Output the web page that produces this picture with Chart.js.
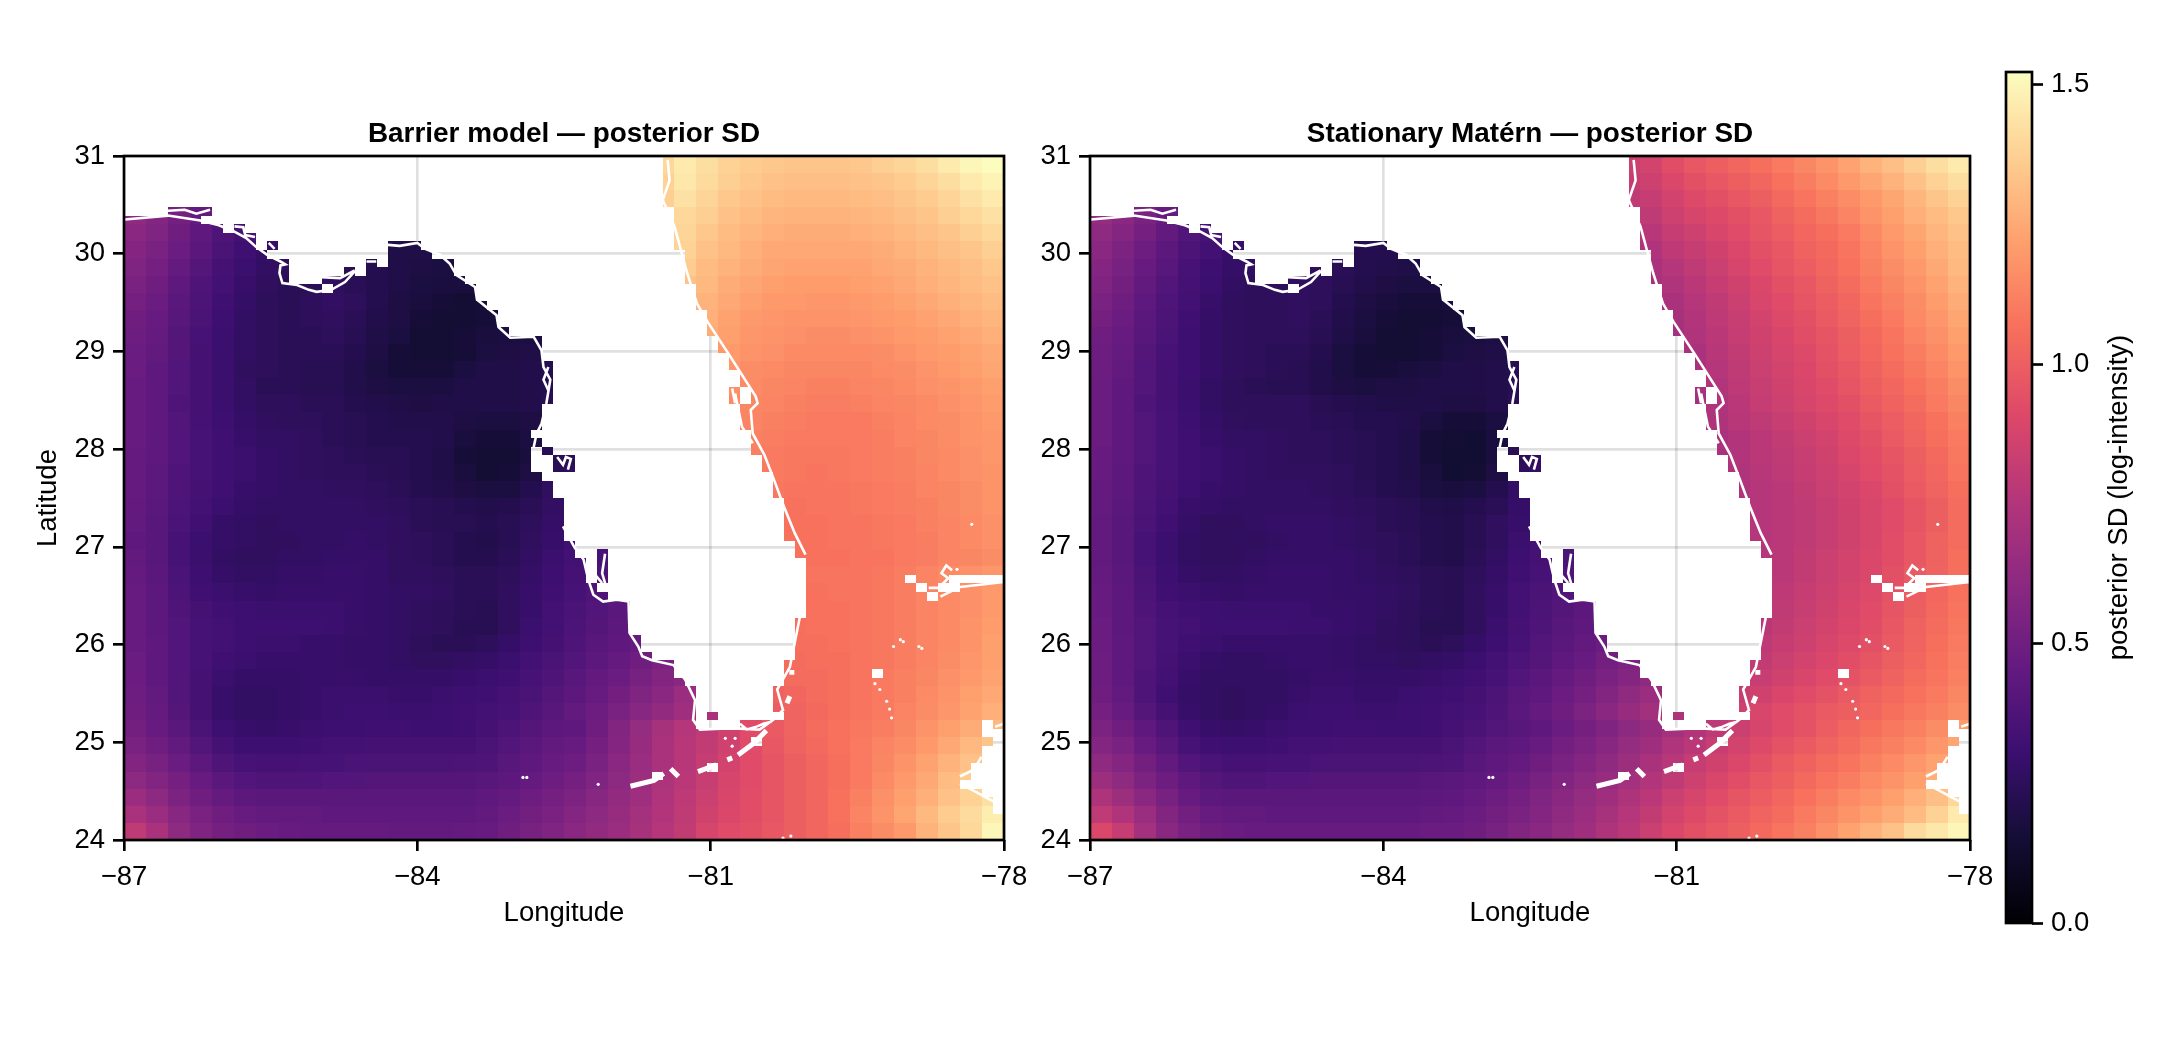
<!DOCTYPE html>
<html>
<head>
<meta charset="utf-8">
<style>
	html, body { margin: 0; background: #fff; }
	canvas { position: absolute; top: 0; }
</style>
<script src="https://cdn.jsdelivr.net/npm/chart.js@4"></script>
</head>
<body>
<canvas id="barrier" width="1040" height="1040" style="left:0"></canvas>
<canvas id="stationary" width="976" height="1040" style="left:1030px"></canvas>
<canvas id="cbar" width="170" height="1040" style="left:1990px"></canvas>
<script>
const lonTicks = [-87, -84, -81, -78];
const latTicks = [24, 25, 26, 27, 28, 29, 30, 31];
const cbarTicks = [0, 0.5, 1, 1.5];
const cbarMax = 1.523;
const magmaStops = ['#000004', '#140e36', '#3b0f70', '#641a80', '#8c2981', '#b5367a', '#de4968', '#f7705c', '#fe9f6d', '#fecf92', '#fcfdbf'];

// posterior SD x100. each row has a sea part left of the land and a sea part right of it
const barrierWest = [
	[], [], [],
	[62,58,52,46],
	[60,56,50,44,38,34],
	[58,54,48,42,36,32,28,null,null,null,null,null,20,20],
	[56,52,46,40,34,30,27,25,null,null,24,22,20,19,18],
	[54,50,44,38,33,29,26,24,24,26,24,22,20,18,17,17],
	[52,48,42,37,32,28,25,24,25,27,25,22,19,17,16,15,16],
	[50,47,41,36,31,27,25,24,25,26,24,21,19,16,15,15,16],
	[49,46,40,35,30,27,25,24,24,25,23,20,18,15,15,16,17,18,18],
	[48,45,40,34,30,27,25,24,24,24,22,19,16,15,15,16,18,19,20],
	[48,44,39,34,30,26,25,24,23,23,21,18,16,16,16,18,20,20,21,22],
	[47,44,39,34,30,27,24,24,23,23,21,19,18,18,18,20,20,20,21,22],
	[47,44,38,34,30,27,25,25,24,24,22,21,20,19,20,20,20,20,21,23],
	[47,44,39,34,31,28,26,25,25,24,23,22,21,21,21,19,18,18,19],
	[47,44,39,35,32,29,27,27,26,24,23,22,22,22,21,17,16,16,18],
	[46,44,39,35,32,30,28,27,26,25,24,23,23,22,20,16,15,15,17,23,24],
	[46,43,38,35,32,30,28,27,26,25,25,24,23,22,20,17,15,16,19,24,25],
	[46,43,38,34,32,29,28,27,27,26,26,25,24,22,21,19,18,18,22,26],
	[45,42,37,33,30,28,27,27,27,27,27,26,25,24,23,22,21,22,24,27,30],
	[45,41,36,32,28,27,26,27,27,27,27,27,26,24,23,23,22,23,25,28,31],
	[44,41,35,30,28,27,26,26,27,27,28,27,26,25,24,22,21,23,26,29,32],
	[45,41,35,30,27,26,26,27,27,28,28,28,26,25,24,22,22,24,27,30,33,35],
	[46,42,36,31,28,27,27,28,28,29,29,28,26,26,25,24,24,25,28,31,34,37],
	[47,43,37,32,30,29,28,29,29,29,29,28,27,27,26,24,24,26,29,32,35,38,41],
	[47,43,38,34,32,31,30,30,30,30,29,28,27,26,25,24,23,26,29,33,36,39,42,45],
	[47,43,39,35,33,31,31,31,31,30,29,28,27,26,25,23,23,26,30,33,37,40,43,46],
	[47,44,39,35,33,31,30,30,29,29,28,28,27,25,24,24,25,28,31,34,38,41,44,47],
	[48,44,39,35,32,30,29,29,29,29,28,28,27,26,26,27,28,30,33,36,39,43,46,50,54],
	[48,44,39,34,30,28,28,28,29,29,29,28,28,28,28,29,30,32,35,38,41,45,48,53,57,60],
	[49,45,39,34,29,27,27,28,29,30,30,30,29,29,30,31,32,34,36,40,43,47,51,56,60,66,69],
	[50,46,40,34,29,27,27,28,29,30,31,31,30,30,31,32,33,35,38,41,45,49,54,59,63,68,72],
	[51,47,42,36,31,29,28,29,30,31,31,32,32,31,31,32,34,37,40,43,44,50,57,64,71,76,80,86,92,98,102,105,107,109,111,114,118,122,126,130],
	[54,50,45,39,34,31,31,31,32,33,33,34,34,34,34,34,36,39,42,45,47,52,58,65,72,77,81,86,92,97,101,104,107,110,113,116,120,125,130,134],
	[57,53,48,43,38,35,34,34,35,35,36,36,36,36,36,37,38,41,44,47,49,54,60,66,72,77,82,87,92,96,100,103,106,110,114,118,123,128,133,138],
	[61,57,52,47,42,39,38,38,38,39,39,40,40,40,40,40,41,43,46,49,52,56,61,67,73,78,83,88,92,96,100,103,106,110,115,120,125,131,136,141],
	[66,61,55,50,46,43,42,42,42,42,42,42,42,42,42,42,44,46,49,52,55,59,63,68,74,79,84,89,93,96,100,103,107,112,117,122,127,133,138,143],
	[72,66,59,54,50,47,45,45,45,44,44,44,44,44,44,44,45,48,51,54,58,61,65,70,75,80,86,90,93,96,100,103,107,113,118,124,130,136,141,147],
	[80,72,62,56,52,50,48,47,46,46,46,46,45,45,45,46,47,50,53,56,60,63,66,71,76,81,88,92,94,97,100,103,106,112,116,120,128,134,140,150]
];
const barrierEast = [
	[140,146,142,138,136,135,134,134,134,135,137,139,142,146,150,152],
	[138,145,141,137,135,133,132,132,132,133,134,136,139,142,146,149],
	[137,143,139,135,133,131,130,130,130,131,132,134,136,139,143,146],
	[140,137,133,131,129,128,128,128,129,130,132,134,137,140,143],
	[139,135,131,129,127,126,126,126,127,128,130,132,134,137,140],
	[138,133,130,127,125,125,125,125,125,126,128,130,132,134,137],
	[136,131,128,126,124,123,123,123,123,125,126,128,130,132,135],
	[133,130,126,124,122,121,121,121,122,123,125,127,129,131,133],
	[128,125,122,120,120,119,119,120,121,123,125,127,129,131],
	[127,123,120,119,118,118,118,119,120,121,123,125,127,129],
	[126,122,119,118,117,116,116,117,118,120,121,123,125,127],
	[120,118,117,115,115,115,115,116,118,120,121,123,125],
	[119,116,115,114,114,114,114,115,116,118,120,122,124],
	[117,115,114,113,112,112,113,114,115,117,118,120,122],
	[115,114,113,112,111,111,112,113,114,115,117,119,121],
	[113,112,111,110,110,110,112,113,115,116,118,120],
	[112,111,110,110,110,110,111,113,114,116,118,119],
	[112,110,109,109,109,110,111,112,114,115,117,119],
	[110,109,108,109,110,111,112,113,115,117,118],
	[109,108,108,108,109,110,111,113,114,116,118],
	[107,108,108,109,110,111,112,114,116,118],
	[107,107,108,108,109,110,112,113,115,117],
	[107,107,108,108,109,110,111,113,115,117],
	[107,107,107,108,108,110,111,113,114,116],
	[108,108,108,109,111,113,115,117,119],
	[107,108,108,109,111,113,115,117,120],
	[107,107,108,109,111,113,115,117,120],
	[106,107,107,108,109,111,113,115,118,121],
	[106,106,107,108,109,111,113,115,118,122],
	[105,106,106,108,109,111,113,116,119,122],
	[105,105,106,108,110,112,114,117,120,123],
	[101,103,105,106,108,110,112,115,118,122,125],
	[99,102,104,106,108,110,113,116,119,123,127],
	[], [], [], [], [], [], []
];
const stationaryWest = [
	[], [], [],
	[64,60,54,47],
	[62,58,52,45,39,35],
	[60,55,49,43,37,33,29,null,null,null,null,null,22,22],
	[58,53,47,41,35,31,28,26,null,null,25,24,22,21,20],
	[56,51,45,39,34,30,27,25,25,26,25,23,21,19,18,18],
	[54,50,44,38,33,29,26,25,25,26,25,22,19,17,16,16,17],
	[52,48,42,37,32,28,26,25,25,26,24,21,18,16,15,15,16],
	[50,47,41,36,31,28,26,25,25,25,23,20,17,15,15,16,17,18,19],
	[49,46,40,35,31,28,26,25,24,24,22,18,16,15,15,16,18,19,20],
	[49,45,39,34,31,28,26,25,24,23,21,18,16,16,17,18,20,20,21,23],
	[48,44,39,34,30,27,25,24,23,23,21,19,18,19,19,20,20,20,21,23],
	[48,44,38,34,30,27,25,25,25,25,23,22,21,20,20,20,19,19,21,24],
	[48,44,39,35,31,28,26,25,25,25,24,23,22,22,21,18,16,16,18],
	[48,44,39,35,32,29,27,27,26,25,25,24,23,22,20,16,15,14,17],
	[47,44,39,35,32,30,28,27,26,25,25,24,23,22,20,16,14,14,17,24,26],
	[47,43,38,35,32,30,28,27,26,26,26,25,23,22,20,17,14,15,19,25,27],
	[46,43,38,34,31,29,28,27,27,27,26,25,24,22,21,18,17,18,22,27],
	[46,42,37,33,29,28,27,27,27,27,27,26,25,24,23,21,20,22,24,28,31],
	[45,41,36,32,28,26,26,27,28,28,28,27,26,24,23,22,21,23,26,29,32],
	[45,41,35,30,27,26,26,26,27,28,28,27,26,25,24,22,21,23,26,30,33],
	[45,41,35,30,27,26,26,27,28,28,28,28,27,25,24,22,21,24,27,31,34,36],
	[46,42,36,31,28,27,27,28,29,29,29,28,27,26,25,24,23,25,28,32,35,38],
	[47,43,37,32,30,29,28,29,29,29,29,28,28,27,26,24,23,26,29,33,36,39,42],
	[47,43,38,34,32,31,30,30,30,30,29,29,28,27,25,24,23,26,29,33,37,40,43,46],
	[48,43,39,35,33,31,31,31,31,30,30,29,28,26,25,23,23,26,30,34,38,41,44,47],
	[48,44,39,35,32,30,29,29,29,29,29,28,27,26,25,24,25,28,31,35,39,42,45,48],
	[49,44,39,34,30,28,27,27,28,29,29,28,27,27,26,27,28,30,33,37,40,44,47,51,55],
	[49,44,38,33,29,27,27,27,27,28,29,29,28,28,28,29,30,32,35,39,42,46,50,54,58,62],
	[50,45,38,32,28,27,26,27,27,29,30,30,29,29,30,31,32,34,37,41,44,48,52,57,62,66,70],
	[52,47,40,34,29,27,26,27,28,30,31,31,30,30,31,32,33,35,38,42,46,50,55,60,65,69,73],
	[55,50,44,38,32,29,28,29,30,31,31,32,32,31,31,32,34,36,39,41,44,48,52,56,61,65,70,75,79,84,88,92,95,99,103,106,109,112,116,121],
	[58,54,47,41,35,32,31,31,32,33,33,34,34,34,34,34,36,39,42,44,47,51,55,59,64,68,74,78,83,87,91,95,98,102,105,109,112,115,119,124],
	[62,58,51,45,39,36,34,34,35,35,36,36,36,36,36,37,38,41,44,46,50,54,58,62,67,72,77,82,86,90,94,98,101,105,108,112,115,119,123,128],
	[67,62,55,49,44,40,38,38,39,39,40,40,40,40,40,41,42,44,46,49,53,57,61,65,70,75,80,85,89,93,97,100,104,108,111,115,118,122,127,133],
	[73,67,60,53,47,43,42,42,42,42,42,42,42,42,42,43,44,46,49,52,56,60,64,68,73,78,84,88,92,96,99,103,107,111,115,118,122,127,132,140],
	[80,74,66,57,51,47,45,45,44,44,44,44,44,44,44,45,46,48,51,54,58,62,66,71,76,81,87,91,95,98,102,105,110,114,118,122,126,131,138,146],
	[90,82,70,60,54,50,48,47,47,47,47,47,47,47,47,48,48,50,53,57,60,64,68,73,78,84,90,94,97,100,104,108,112,117,123,128,133,141,145,150]
];
const stationaryEast = [
	[84,87,93,97,100,103,106,110,114,118,123,128,132,137,142,146],
	[82,85,90,94,97,100,103,107,111,115,120,124,128,133,138,142],
	[80,82,87,91,94,97,100,104,108,112,116,120,124,129,134,138],
	[80,85,88,91,94,97,101,105,109,113,118,122,127,131,135],
	[77,82,85,89,92,96,99,103,106,110,115,120,124,129,133],
	[74,79,82,86,90,94,97,101,104,108,113,118,122,127,131],
	[72,76,80,84,88,92,96,99,103,107,112,116,120,125,130],
	[71,74,78,82,86,90,94,97,101,105,110,114,118,123,128],
	[72,76,80,84,89,92,96,99,103,108,112,116,121,126],
	[71,75,79,83,87,91,94,98,102,106,110,115,119,124],
	[70,74,78,82,86,89,93,96,100,104,108,113,117,122],
	[72,77,81,85,88,91,95,99,103,107,111,115,120],
	[72,76,80,84,87,90,94,97,101,105,109,113,118],
	[71,75,79,83,86,89,92,96,100,103,107,111,116],
	[70,74,78,82,85,88,91,94,98,101,105,110,114],
	[73,77,80,83,86,89,92,96,99,103,107,112],
	[72,75,78,81,84,87,91,94,98,102,106,110],
	[72,75,78,80,83,86,90,93,96,100,104,109],
	[74,77,79,82,85,88,92,95,99,103,108],
	[74,76,78,81,84,87,90,94,98,102,106],
	[76,78,80,83,86,89,92,96,100,105],
	[76,78,80,83,86,89,92,96,100,105],
	[76,78,80,83,86,89,93,97,101,105],
	[76,78,81,84,87,90,93,97,101,106],
	[78,81,84,87,90,94,98,102,106],
	[79,82,85,88,91,95,99,103,107],
	[80,83,86,89,92,96,100,104,108],
	[78,81,84,87,90,93,97,101,105,109],
	[79,82,85,88,91,94,98,102,106,110],
	[81,84,87,90,93,96,100,103,107,111],
	[83,86,89,92,95,98,101,105,108,112],
	[83,86,89,92,95,98,101,104,107,110,114],
	[86,89,92,95,98,100,103,106,109,112,116],
	[], [], [], [], [], [], []
];

// land cells per row of the 80 x 80 grid, as [first column, column after last]
const landSpans = [
	[[0,49]], [[0,49]], [[0,49]], [[0,49]], [[0,49]], [[0,49]],
	[[0,4],[8,50]],
	[[7,50]],
	[[9,10],[11,50]],
	[[12,50]],
	[[12,13],[14,24],[27,50]],
	[[13,24],[28,51]],
	[[15,22],[23,24],[30,51]],
	[[15,20],[21,22],[30,51]],
	[[15,18],[31,51]],
	[[18,19],[32,52]],
	[[32,52]],
	[[33,52]],
	[[34,53]],
	[[34,53]],
	[[35,53]],
	[[38,54]],
	[[38,54]],
	[[38,55]],
	[[39,55]],
	[[39,56]],
	[[39,56]],
	[[39,55],[56,57]],
	[[39,55],[56,57]],
	[[38,56]],
	[[38,56]],
	[[38,56]],
	[[37,57]],
	[[38,57]],
	[[37,38],[39,57]],
	[[37,39],[41,58]],
	[[37,39],[41,58]],
	[[38,59]],
	[[39,59]],
	[[39,59]],
	[[40,60]], [[40,60]], [[40,60]], [[40,60]], [[40,60]],
	[[41,61]],
	[[41,43],[44,61]],
	[[42,43],[44,62]],
	[[42,43],[44,62]],
	[[42,43],[44,62],[71,72],[75,80]],
	[[43,62],[72,73],[74,76]],
	[[44,62],[73,74]],
	[[46,62]],
	[[46,62]],
	[[46,61]],
	[[46,61]],
	[[47,61]],
	[[47,61]],
	[[48,61]],
	[[50,60]],
	[[50,60],[68,69]],
	[[51,60]],
	[[52,59]],
	[[52,59]],
	[[52,59]],
	[[52,53],[54,60]],
	[[52,56],[78,79]],
	[[78,80]],
	[[57,58],[79,80]],
	[[78,80]],
	[[78,80]],
	[[53,54],[77,80]],
	[[48,49],[77,80]],
	[[76,80]],
	[[78,80]],
	[[79,80]],
	[[79,80]],
	[], [], []
];

const coastPoints = [
	[-86.99,30.35],[-86.55,30.39],[-86.22,30.34],[-86.03,30.29],[-85.88,30.23],[-85.75,30.16],[-85.65,30.07],[-85.54,29.99],[-85.4,29.92],[-85.35,29.89],[-85.40,29.88],[-85.41,29.80],[-85.38,29.70],[-85.23,29.68],[-85.11,29.63],[-85.03,29.61],[-84.88,29.63],[-84.74,29.71],[-84.64,29.82],null,
	[-84.52,29.92],[-84.42,29.92],null,
	[-84.30,30.09],[-84.18,30.08],[-84.0,30.11],[-83.92,30.05],[-83.77,29.99],[-83.67,29.90],[-83.6,29.78],[-83.41,29.66],[-83.39,29.53],[-83.19,29.37],[-83.17,29.25],[-83.05,29.14],[-82.81,29.15],[-82.73,29.01],[-82.71,28.84],[-82.64,28.71],[-82.68,28.47],[-82.73,28.26],[-82.78,28.16],[-82.81,28.02],null,
	[-82.51,27.21],[-82.39,26.99],[-82.30,26.87],[-82.25,26.66],[-82.2,26.51],[-82.1,26.44],[-81.96,26.46],[-81.84,26.44],[-81.83,26.12],[-81.74,25.98],[-81.70,25.88],[-81.6,25.84],[-81.38,25.79],[-81.26,25.64],[-81.16,25.43],[-81.18,25.23],[-81.11,25.13],[-80.90,25.14],[-80.70,25.14],[-80.5,25.13],[-80.36,25.23],[-80.26,25.33],[-80.32,25.54],[-80.19,25.77],[-80.12,26.12],[-80.08,26.32],null,
	[-80.03,26.92],[-80.14,27.14],[-80.25,27.41],[-80.35,27.68],[-80.45,27.94],[-80.57,28.16],[-80.59,28.40],[-80.52,28.47],[-80.54,28.54],[-80.82,28.98],[-81.03,29.30],[-81.14,29.49],[-81.24,29.80],[-81.37,30.28],[-81.49,30.55],[-81.42,30.75],[-81.44,30.96],null,
	[-80.75,28.57],[-80.68,28.23],[-80.57,28.06],null,
	[-80.78,28.62],[-80.75,28.47],null,
	[-86.55,30.44],[-86.38,30.45],[-86.26,30.41],[-86.12,30.45],null,
	[-85.87,30.28],[-85.78,30.27],[-85.76,30.19],[-85.66,30.17],null,
	[-85.52,30.11],[-85.46,30.05],null,
	[-84.98,29.76],[-84.79,29.75],[-84.64,29.83],null,
	[-82.66,28.84],[-82.71,28.71],[-82.66,28.60],null,
	[-82.57,27.92],[-82.51,27.84],[-82.48,27.92],[-82.43,27.90],[-82.46,27.79],null,
	[-82.08,26.93],[-82.11,26.73],[-82.06,26.56],null,
	[-82.17,26.70],[-82.11,26.63],null,
	[-80.70,25.19],[-80.63,25.13],[-80.53,25.16],[-80.46,25.19],[-80.38,25.21],null,
	[-78.65,26.49],[-78.45,26.59],[-78.0,26.64],null,
	[-78.77,26.58],[-78.67,26.58],[-78.57,26.68],[-78.64,26.73],[-78.59,26.81],[-78.53,26.76],null,
	[-78.45,24.65],[-78.31,24.72],[-78.23,24.85],null,
	[-78.45,24.58],[-78.1,24.39],null,
	[-78.09,25.16],[-78.0,25.19]
];
const keysPoints = [
	[-81.82,24.55],[-81.58,24.61],[-81.48,24.68],null,
	[-81.41,24.73],[-81.33,24.65],null,
	[-81.13,24.70],[-80.94,24.77],null,
	[-80.83,24.82],[-80.78,24.84],null,
	[-80.72,24.87],[-80.56,24.99],[-80.43,25.12],null,
	[-80.19,25.47],[-80.22,25.40],null,
	[-80.17,25.74],[-80.17,25.69]
];
const islandDots = [
	[-82.15,24.57],[-82.88,24.64],[-82.92,24.64],[-78.48,26.77],[-78.33,27.23],
	[-79.13,25.98],[-79.06,26.05],[-79.03,26.03],[-78.87,25.98],[-78.84,25.96],
	[-79.32,25.60],[-79.27,25.54],[-79.2,25.42],[-79.17,25.34],[-79.15,25.25],
	[-80.85,25.04],[-80.75,25.04],[-80.78,24.96],[-80.26,24.02],[-80.18,24.04]
];

Chart.defaults.font.family = '"Liberation Sans", Arial, sans-serif';
Chart.defaults.font.size = 27.5;
Chart.defaults.color = '#000';

const GRID_N = 80, lonStep = 9 / GRID_N, latStep = 7 / GRID_N;

function hexRgb(h) {
	return [parseInt(h.substr(1, 2), 16), parseInt(h.substr(3, 2), 16), parseInt(h.substr(5, 2), 16)];
}
const magmaRgb = magmaStops.map(hexRgb);
function magma(v) {
	var t = Math.min(1, Math.max(0, v / cbarMax)) * (magmaRgb.length - 1);
	var i = Math.min(magmaRgb.length - 2, Math.floor(t)), f = t - i;
	var a = magmaRgb[i], b = magmaRgb[i + 1];
	return 'rgb(' + [0, 1, 2].map(k => Math.round(a[k] + (b[k] - a[k]) * f)).join(',') + ')';
}

function isLand(r, c) {
	return landSpans[r].some(s => c >= s[0] && c < s[1]);
}

// each table cell fills two by two cells of the fine grid, the land mask cuts the coast out
function buildCells(west, east) {
	var cells = [];
	for (var r = 0; r < GRID_N; r++) {
		for (var c = 0; c < GRID_N; c++) {
			if (isLand(r, c)) continue;
			var R = r >> 1, C = c >> 1;
			var v = C < west[R].length ? west[R][C] : (C >= 40 - east[R].length ? east[R][C - 40 + east[R].length] : null);
			if (v === null || v === undefined) continue;
			cells.push({x: -87 + c * lonStep, y: 31 - r * latStep, v: v / 100});
		}
	}
	return cells;
}

function toXY(list) {
	return list.map(p => p ? {x: p[0], y: p[1]} : {x: null, y: null});
}

const heatPlugin = {
	id: 'heat',
	beforeDatasetsDraw(chart) {
		var ctx = chart.ctx, xs = chart.scales.x, ys = chart.scales.y;
		chart.data.datasets[0].data.forEach(function(p) {
			var x0 = Math.round(xs.getPixelForValue(p.x)), x1 = Math.round(xs.getPixelForValue(p.x + lonStep));
			var y0 = Math.round(ys.getPixelForValue(p.y)), y1 = Math.round(ys.getPixelForValue(p.y - latStep));
			ctx.fillStyle = magma(p.v);
			ctx.fillRect(x0, y0, x1 - x0, y1 - y0);
		});
	}
};

const framePlugin = {
	id: 'frame',
	afterDraw(chart) {
		var a = chart.chartArea, ctx = chart.ctx;
		ctx.save();
		ctx.strokeStyle = '#000';
		ctx.lineWidth = 2.67;
		ctx.strokeRect(a.left, a.top, a.right - a.left, a.bottom - a.top);
		ctx.restore();
	}
};

function makePanel(id, title, west, east, axisWidth, showLatTitle) {
	return new Chart(document.getElementById(id), {
		type: 'scatter',
		data: {
			datasets: [
				{data: buildCells(west, east), pointRadius: 0},
				{data: toXY(coastPoints), showLine: true, pointRadius: 0, borderColor: '#fff', borderWidth: 2.6, spanGaps: false},
				{data: toXY(keysPoints), showLine: true, pointRadius: 0, borderColor: '#fff', borderWidth: 5, spanGaps: false},
				{data: toXY(islandDots), showLine: false, pointRadius: 1.6, pointBackgroundColor: '#fff', pointBorderWidth: 0}
			]
		},
		options: {
			responsive: false,
			animation: false,
			events: [],
			layout: {padding: {left: 0, right: 36, top: 0, bottom: 107}},
			plugins: {
				legend: {display: false},
				tooltip: {enabled: false},
				title: {
					display: true,
					fullSize: false,
					text: title,
					color: '#000',
					font: {size: 27.9, weight: 'bold'},
					padding: {top: 118, bottom: 4.5}
				}
			},
			scales: {
				x: {
					type: 'linear',
					min: -87,
					max: -78,
					afterBuildTicks: s => { s.ticks = lonTicks.map(v => ({value: v})); },
					afterFit: s => { s.height = 93; },
					ticks: {callback: v => String(v).replace('-', '\u2212'), padding: 10, maxRotation: 0, autoSkip: false},
					grid: {color: 'rgba(0,0,0,0.12)', lineWidth: 2.67, tickColor: '#000', tickWidth: 2.67, tickLength: 11},
					border: {display: false},
					title: {display: true, text: 'Longitude', padding: {top: 0, bottom: 3}}
				},
				y: {
					type: 'linear',
					min: 24,
					max: 31,
					afterBuildTicks: s => { s.ticks = latTicks.map(v => ({value: v})); },
					afterFit: s => { s.width = axisWidth; },
					ticks: {padding: 8, autoSkip: false},
					grid: {color: 'rgba(0,0,0,0.12)', lineWidth: 2.67, tickColor: '#000', tickWidth: 2.67, tickLength: 11},
					border: {display: false},
					title: {display: showLatTitle, text: 'Latitude', padding: {top: 32, bottom: 0}}
				}
			}
		},
		plugins: [heatPlugin, framePlugin]
	});
}

makePanel('barrier', 'Barrier model \u2014 posterior SD', barrierWest, barrierEast, 124, true);
makePanel('stationary', 'Stationary Mat\u00e9rn \u2014 posterior SD', stationaryWest, stationaryEast, 60, false);

const cbarLabel = {
	id: 'cbarLabel',
	afterDraw(chart) {
		var a = chart.chartArea, ctx = chart.ctx;
		ctx.save();
		ctx.translate(a.right + 87, (chart.scales.y.getPixelForValue(0) + a.top) / 2);
		ctx.rotate(-Math.PI / 2);
		ctx.font = '27.5px "Liberation Sans", Arial, sans-serif';
		ctx.fillStyle = '#000';
		ctx.textAlign = 'center';
		ctx.textBaseline = 'middle';
		ctx.fillText('posterior SD (log-intensity)', 0, 0);
		ctx.restore();
	}
};

new Chart(document.getElementById('cbar'), {
	type: 'bar',
	data: {
		labels: ['sd'],
		datasets: [{
			data: [[0, cbarMax]],
			barPercentage: 1,
			categoryPercentage: 1,
			backgroundColor(context) {
				var a = context.chart.chartArea;
				if (!a) return '#000';
				var g = context.chart.ctx.createLinearGradient(0, a.bottom, 0, a.top);
				magmaStops.forEach((c, i) => g.addColorStop(i / (magmaStops.length - 1), c));
				return g;
			}
		}]
	},
	options: {
		responsive: false,
		animation: false,
		events: [],
		layout: {padding: {left: 16, right: 0, top: 72, bottom: 117}},
		plugins: {legend: {display: false}, tooltip: {enabled: false}},
		scales: {
			x: {display: false},
			y: {
				position: 'right',
				min: 0,
				max: cbarMax,
				afterBuildTicks: s => { s.ticks = cbarTicks.map(v => ({value: v})); },
				afterFit: s => { s.width = 128; },
				ticks: {callback: v => v.toFixed(1), padding: 8, autoSkip: false},
				grid: {drawOnChartArea: false, tickColor: '#000', tickWidth: 2.67, tickLength: 11},
				border: {display: false}
			}
		}
	},
	plugins: [framePlugin, cbarLabel]
});
</script>
</body>
</html>
